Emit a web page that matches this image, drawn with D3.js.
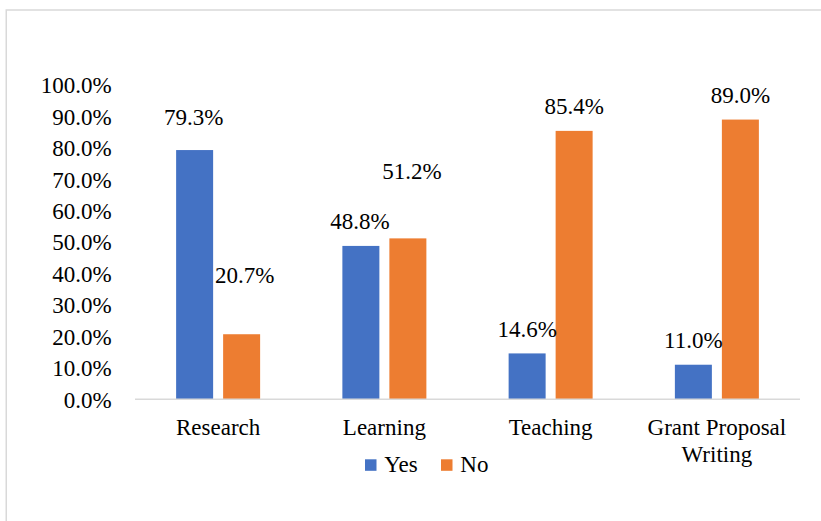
<!DOCTYPE html>
<html>
<head>
<meta charset="utf-8">
<script src="https://cdn.jsdelivr.net/npm/d3@7"></script>
<style>
  html, body { margin: 0; padding: 0; background: #fff; }
</style>
</head>
<body>
<svg id="chart" width="821" height="521" font-family="Liberation Serif"></svg>
<script>
// ---- data ----
const categories = ["Research", "Learning", "Teaching", "Grant Proposal Writing"];
const seriesNames = ["Yes", "No"];
const yesValues = [79.3, 48.8, 14.6, 11.0];
const noValues = [20.7, 51.2, 85.4, 89.0];
const yTicks = [0, 10, 20, 30, 40, 50, 60, 70, 80, 90, 100];

// ---- style / layout ----
const FONT = "Liberation Serif";
const colors = { Yes: "#4472C4", No: "#ED7D31" };
const fontSize = 23;
// extra manual lift (px) of certain data labels, as placed in the original
const labelLift = {
  Yes: [8, 0, 0, 0],
  No: [34, 43, 0, 0]
};
const labelShiftX = {
  Yes: [-1, -1, 0, 0],
  No: [3, 4, 0, 0]
};

const svg = d3.select("#chart");
const W = 821, H = 521;
const plot = { left: 135, right: 800, top: 85, bottom: 399.3 };

// helper: put the string inside a tspan, with explicit font settings
function setText(sel, fn) {
  sel.attr("font-family", FONT).attr("font-size", fontSize).attr("fill", "#000");
  sel.each(function (d, i) {
    const t = d3.select(this);
    const s = typeof fn === "function" ? fn(d, i) : fn;
    t.text(null);
    t.append("tspan").attr("font-family", FONT).attr("font-size", fontSize).text(s);
  });
}

svg.append("rect").attr("x", 0).attr("y", 0).attr("width", W).attr("height", H).attr("fill", "#fff");
// chart area border (extends beyond the right and bottom edges)
svg.append("rect")
  .attr("x", 6.25).attr("y", 10).attr("width", 840).attr("height", 540)
  .attr("fill", "none").attr("stroke", "#d9d9d9").attr("stroke-width", 1.5);

const x0 = d3.scaleBand().domain(categories).range([plot.left, plot.right]).paddingInner(0).paddingOuter(0);
const pairW = 84;
const x1 = d3.scaleBand().domain(seriesNames)
  .range([x0.bandwidth() / 2 - pairW / 2, x0.bandwidth() / 2 + pairW / 2])
  .paddingInner(0.2128).paddingOuter(0);
const y = d3.scaleLinear().domain([0, 100]).range([plot.bottom, plot.top]);

const rows = categories.map((c, i) => ({ cat: c, i, Yes: yesValues[i], No: noValues[i] }));

// y axis labels
const yAxis = d3.axisLeft(y).tickValues(yTicks).tickFormat(d => d.toFixed(1) + "%").tickSize(0).tickPadding(0);
const gy = svg.append("g").attr("transform", `translate(${111.7},0)`).call(yAxis);
gy.attr("font-family", FONT).attr("font-size", fontSize);
gy.select(".domain").remove();
gy.selectAll(".tick text").attr("dy", "0.34em").call(setText, d => d.toFixed(1) + "%");

// bars
const groups = svg.append("g").selectAll("g").data(rows).join("g")
  .attr("transform", d => `translate(${x0(d.cat)},0)`);

groups.selectAll("rect").data(d => seriesNames.map(s => ({ s, v: d[s], i: d.i }))).join("rect")
  .attr("x", d => x1(d.s))
  .attr("width", x1.bandwidth())
  .attr("y", d => y(d.v))
  .attr("height", d => y(0) - y(d.v))
  .attr("fill", d => colors[d.s]);

// x axis line
svg.append("line")
  .attr("x1", plot.left).attr("x2", plot.right)
  .attr("y1", plot.bottom).attr("y2", plot.bottom)
  .attr("stroke", "#d9d9d9").attr("stroke-width", 1.5);

// data labels
groups.selectAll("text.lbl").data(d => seriesNames.map(s => ({ s, v: d[s], i: d.i }))).join("text")
  .attr("class", "lbl")
  .attr("x", d => x1(d.s) + x1.bandwidth() / 2 + labelShiftX[d.s][d.i])
  .attr("y", d => y(d.v) - 16.8 - labelLift[d.s][d.i])
  .attr("text-anchor", "middle")
  .call(setText, d => d.v.toFixed(1) + "%");

// category labels (wrapped)
const catLines = { "Grant Proposal Writing": ["Grant Proposal", "Writing"] };
svg.append("g").selectAll("text").data(categories).join("text")
  .attr("x", d => x0(d) + x0.bandwidth() / 2)
  .attr("y", 435)
  .attr("text-anchor", "middle")
  .attr("font-family", FONT)
  .attr("font-size", fontSize)
  .attr("fill", "#000")
  .each(function (d) {
    const lines = catLines[d] || [d];
    d3.select(this).selectAll("tspan").data(lines).join("tspan")
      .attr("x", x0(d) + x0.bandwidth() / 2)
      .attr("dy", (l, k) => k === 0 ? 0 : 26.7)
      .text(l => l);
  });

// legend
const legend = svg.append("g");
const legendItems = [{ s: "Yes", x: 365 }, { s: "No", x: 441 }];
legendItems.forEach(it => {
  legend.append("rect").attr("x", it.x).attr("y", 459.3).attr("width", 11.5).attr("height", 11.5).attr("fill", colors[it.s]);
  legend.append("text").attr("x", it.x + 19.3).attr("y", 472.3).call(setText, it.s);
});
</script>
</body>
</html>
